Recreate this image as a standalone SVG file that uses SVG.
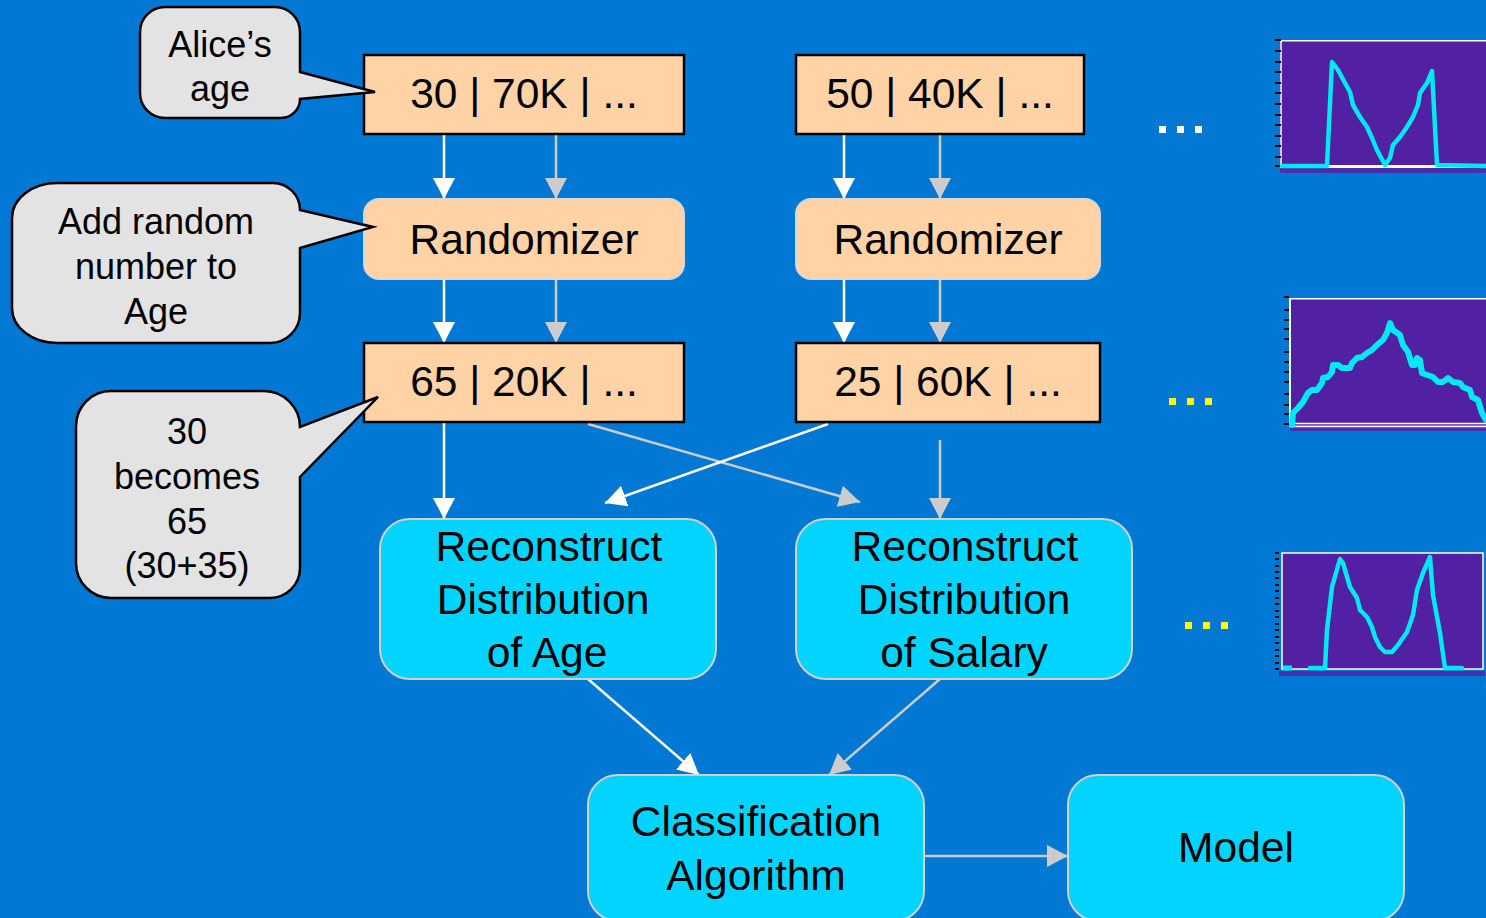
<svg xmlns="http://www.w3.org/2000/svg" width="1486" height="918" viewBox="0 0 1486 918">
<style>
text{font-family:"Liberation Sans",Arial,sans-serif;fill:#000;text-anchor:middle}
.big{font-size:42.5px}
.call{font-size:36px}
.rec{fill:#FFD3A5;stroke:#000;stroke-width:2.5}
.rnd{fill:#FFD3A5;stroke:#D8D8D8;stroke-width:2}
.cy{fill:#00D4FF;stroke:#D0D0D0;stroke-width:2}
.co{fill:#E3E3E3;stroke:#000;stroke-width:2.5;stroke-linejoin:miter}
.w{stroke:#FFFFFF;stroke-width:2.5;fill:none;marker-end:url(#aw)}
.g{stroke:#CCCCCC;stroke-width:2.5;fill:none;marker-end:url(#ag)}
.pl{fill:#5220A3}
.cv{fill:none;stroke:#00E8F0;stroke-linejoin:round;stroke-linecap:round}
.tk{stroke:#000;stroke-width:2}
.bd{fill:#4A2DB0}
</style>
<defs>
<marker id="aw" viewBox="0 0 21 22" refX="21" refY="11" markerWidth="21" markerHeight="22" orient="auto" markerUnits="userSpaceOnUse"><path d="M0,0 L21,11 L0,22 Z" fill="#FFFFFF"/></marker>
<marker id="ag" viewBox="0 0 21 22" refX="21" refY="11" markerWidth="21" markerHeight="22" orient="auto" markerUnits="userSpaceOnUse"><path d="M0,0 L21,11 L0,22 Z" fill="#CCCCCC"/></marker>
</defs>
<rect x="0" y="0" width="1486" height="918" fill="#0078D4"/>

<g id="connectors">
<line class="w" x1="444" y1="135" x2="444" y2="199"/>
<line class="g" x1="556" y1="135" x2="556" y2="199"/>
<line class="w" x1="844" y1="135" x2="844" y2="199"/>
<line class="g" x1="940" y1="135" x2="940" y2="199"/>
<line class="w" x1="444" y1="279" x2="444" y2="343"/>
<line class="g" x1="556" y1="279" x2="556" y2="343"/>
<line class="w" x1="844" y1="279" x2="844" y2="343"/>
<line class="g" x1="940" y1="279" x2="940" y2="343"/>
<line class="w" x1="444" y1="423" x2="444" y2="519"/>
<line class="g" x1="588" y1="424" x2="860" y2="502"/>
<line class="w" x1="828" y1="424" x2="605" y2="503"/>
<line class="g" x1="940" y1="440" x2="940" y2="519"/>
<line class="w" x1="588" y1="679" x2="699" y2="775"/>
<line class="g" x1="940" y1="679" x2="829" y2="775"/>
<line class="g" x1="924" y1="856" x2="1068" y2="856"/>
</g>

<g id="record1">
<rect class="rec" x="364" y="55" width="320" height="79"/>
<text class="big" x="524" y="108">30 | 70K | ...</text>
</g>
<g id="record2">
<rect class="rec" x="796" y="55" width="288" height="79"/>
<text class="big" x="940" y="108">50 | 40K | ...</text>
</g>
<g id="randomizer1">
<rect class="rnd" x="364" y="199" width="320" height="80" rx="15"/>
<text class="big" x="524" y="254">Randomizer</text>
</g>
<g id="randomizer2">
<rect class="rnd" x="796" y="199" width="304" height="80" rx="15"/>
<text class="big" x="948" y="254">Randomizer</text>
</g>
<g id="record3">
<rect class="rec" x="364" y="343" width="320" height="79"/>
<text class="big" x="524" y="396">65 | 20K | ...</text>
</g>
<g id="record4">
<rect class="rec" x="796" y="343" width="304" height="79"/>
<text class="big" x="948" y="396">25 | 60K | ...</text>
</g>
<g id="reconstruct-age">
<rect class="cy" x="380" y="519" width="336" height="160" rx="30"/>
<text class="big" x="549" y="561">Reconstruct</text>
<text class="big" x="543" y="614">Distribution</text>
<text class="big" x="547" y="667">of Age</text>
</g>
<g id="reconstruct-salary">
<rect class="cy" x="796" y="519" width="336" height="160" rx="30"/>
<text class="big" x="965" y="561">Reconstruct</text>
<text class="big" x="964" y="614">Distribution</text>
<text class="big" x="964" y="667">of Salary</text>
</g>
<g id="classification">
<rect class="cy" x="588" y="775" width="336" height="146" rx="30"/>
<text class="big" x="756" y="836">Classification</text>
<text class="big" x="756" y="890">Algorithm</text>
</g>
<g id="model">
<rect class="cy" x="1068" y="775" width="336" height="146" rx="30"/>
<text class="big" x="1236" y="862">Model</text>
</g>

<g id="callout-alice">
<path class="co" d="M165,7 H275 A25,25 0 0 1 300,32 V72 L375,92 L300,99 A19,19 0 0 1 281,118 H165 A25,25 0 0 1 140,93 V32 A25,25 0 0 1 165,7 Z"/>
<text class="call" x="220" y="57">Alice’s</text>
<text class="call" x="220" y="101">age</text>
</g>
<g id="callout-random">
<path class="co" d="M57,183 H273 A27,27 0 0 1 300,210 L373,227 L300,248 V313 A30,30 0 0 1 270,343 H57 A45,35 0 0 1 12,308 V218 A45,35 0 0 1 57,183 Z"/>
<text class="call" x="156" y="234">Add random</text>
<text class="call" x="156" y="279">number to</text>
<text class="call" x="156" y="324">Age</text>
</g>
<g id="callout-becomes">
<path class="co" d="M111,391 H264 A36,36 0 0 1 300,427 L378,397 L300,477 V568 A30,30 0 0 1 270,598 H111 A35,35 0 0 1 76,563 V426 A35,35 0 0 1 111,391 Z"/>
<text class="call" x="187" y="444">30</text>
<text class="call" x="187" y="489">becomes</text>
<text class="call" x="187" y="534">65</text>
<text class="call" x="187" y="578">(30+35)</text>
</g>

<g id="dots">
<rect x="1159" y="126" width="7" height="7" fill="#FFFFFF"/>
<rect x="1177" y="126" width="7" height="7" fill="#FFFFFF"/>
<rect x="1195" y="126" width="7" height="7" fill="#FFFFFF"/>
<rect x="1169" y="398" width="7" height="7" fill="#FFFF00"/>
<rect x="1187" y="398" width="7" height="7" fill="#FFFF00"/>
<rect x="1205" y="398" width="7" height="7" fill="#FFFF00"/>
<rect x="1185" y="622" width="7" height="7" fill="#FFFF00"/>
<rect x="1203" y="622" width="7" height="7" fill="#FFFF00"/>
<rect x="1221" y="622" width="7" height="7" fill="#FFFF00"/>
</g>

<g id="chart1">
<rect class="pl" x="1280" y="40" width="210" height="127"/>
<rect class="bd" x="1280" y="168" width="210" height="5"/>
<line x1="1280" y1="40.7" x2="1486" y2="40.7" stroke="#FFFFFF" stroke-width="1.5"/>
<line x1="1281" y1="40" x2="1281" y2="168" stroke="#FFFFFF" stroke-width="1.5"/>
<line x1="1280" y1="166.5" x2="1486" y2="166.5" stroke="#FFFFFF" stroke-width="3"/>
<path class="tk" d="M1275,40 h6 M1275,51 h6 M1275,62 h6 M1275,72 h6 M1275,83 h6 M1275,93 h6 M1275,104 h6 M1275,115 h6 M1275,125 h6 M1275,136 h6 M1275,146 h6 M1275,157 h6 M1275,166 h6"/>
<polyline class="cv" stroke-width="4.5" points="1282,166 1327,166 1332,62 1338,70 1345,83 1350,92 1353,105 1360,117 1367,127 1372,138 1377,150 1385,165 1390,158 1393,145 1400,137 1407,127 1413,117 1418,105 1420,93 1427,83 1432,71 1437,165 1486,166"/>
</g>

<g id="chart2">
<rect class="pl" x="1290" y="298" width="200" height="127"/>
<rect class="bd" x="1290" y="427" width="200" height="4"/>
<line x1="1290" y1="298.7" x2="1486" y2="298.7" stroke="#FFFFFF" stroke-width="1.5"/>
<line x1="1290" y1="298" x2="1290" y2="427" stroke="#FFFFFF" stroke-width="2"/>
<line x1="1290" y1="423.5" x2="1486" y2="423.5" stroke="#FFFFFF" stroke-width="1.5"/>
<line x1="1290" y1="426.5" x2="1486" y2="426.5" stroke="#FFFFFF" stroke-width="1.5"/>
<path class="tk" d="M1284,297 h5 M1284,310 h5 M1284,320 h5 M1284,329 h5 M1284,339 h5 M1284,352 h5 M1284,362 h5 M1284,372 h5 M1284,382 h5 M1284,394 h5 M1284,405 h5 M1284,414 h5 M1284,424 h5"/>
<polyline class="cv" stroke-width="6" stroke-linejoin="miter" points="1292,425 1293,413 1298,408 1303,402 1308,393 1312,390 1317,390 1322,383 1323,378 1328,377 1332,372 1333,365 1338,365 1342,368 1350,368 1352,363 1357,358 1362,357 1367,353 1372,350 1377,345 1383,340 1387,333 1390,323 1393,330 1400,335 1403,345 1408,352 1412,365 1415,365 1417,358 1420,360 1422,373 1427,375 1433,377 1438,382 1443,382 1448,378 1453,382 1460,383 1463,387 1470,390 1472,397 1478,400 1482,413 1486,420"/>
</g>

<g id="chart3">
<rect class="bd" x="1279" y="671" width="206" height="5"/>
<rect class="pl" x="1282" y="553" width="201" height="116" stroke="#FFFFFF" stroke-width="1.5"/>
<path class="tk" d="M1275,553 h4 M1275,559 h4 M1275,566 h4 M1275,572 h4 M1275,578 h4 M1275,585 h4 M1275,591 h4 M1275,598 h4 M1275,604 h4 M1275,611 h4 M1275,617 h4 M1275,624 h4 M1275,630 h4 M1275,637 h4 M1275,643 h4 M1275,650 h4 M1275,656 h4 M1275,663 h4 M1275,669 h4"/>
<line x1="1283" y1="668" x2="1292" y2="668" stroke="#00E8F0" stroke-width="5"/>
<polyline class="cv" stroke-width="4.5" points="1310,668 1325,668 1327,630 1332,587 1340,559 1343,563 1350,587 1357,598 1360,610 1367,617 1372,627 1375,637 1380,647 1385,652 1392,652 1398,645 1407,632 1413,615 1417,590 1423,573 1430,557 1433,595 1440,633 1445,668 1462,668"/>
</g>
</svg>
